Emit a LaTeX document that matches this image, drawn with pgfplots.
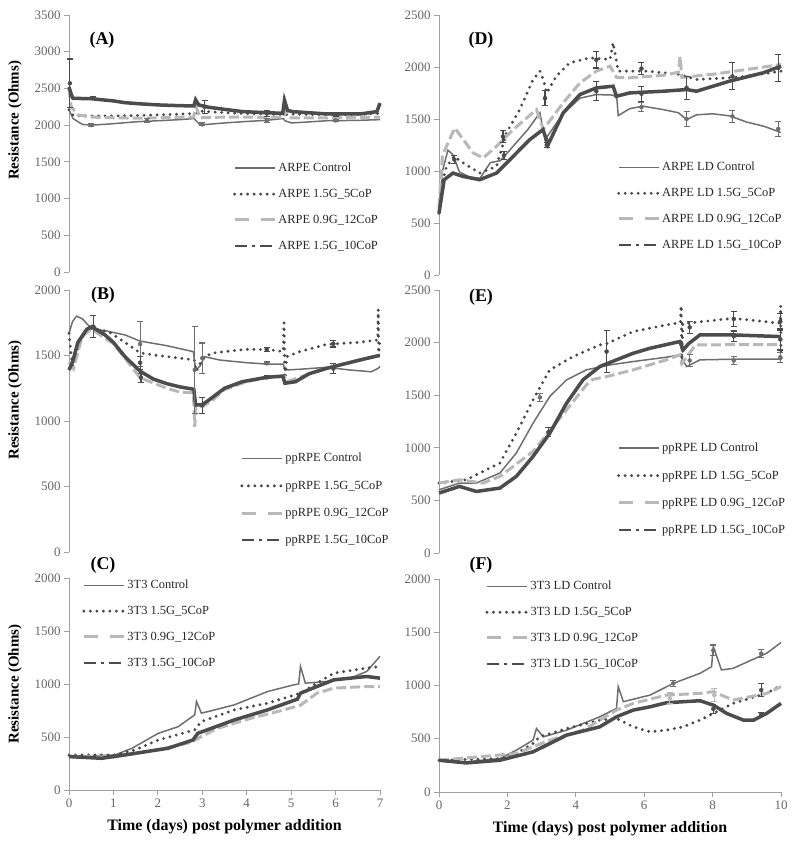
\documentclass[border=0pt]{standalone}
\usepackage{pgfplots}
\pgfplotsset{compat=1.18}
\usepackage{fontspec}
\setmainfont{Liberation Serif}
\definecolor{cctrl}{HTML}{6E6E6E}
\definecolor{cdot}{HTML}{484848}
\definecolor{clight}{HTML}{B8B8B8}
\definecolor{cdark}{HTML}{4C4C4C}
\definecolor{caxis}{HTML}{A0A0A0}
\pgfplotsset{
 panel/.style={
  scale only axis, clip=false,
  axis y line*=left,
  axis line style={draw=caxis, line width=0.9bp, -},
  tick style={draw=caxis, line width=0.9bp},
  major tick length=5bp, tick align=outside,
  tick label style={font=\fontsize{13}{15}\selectfont, text=black!60},
  /pgf/number format/1000 sep={},
  /pgf/number format/assume math mode=true,
  legend cell align=left,
  legend style={draw=none, fill=none, font=\fontsize{12.5}{14}\selectfont, text=black!85, row sep=12bp, inner sep=0pt, anchor=north west},
  legend image code/.code={\draw[##1] (0bp,0bp) -- (40bp,0bp);},
 },
 topaxis/.style={panel, hide x axis},
 botaxis/.style={panel, axis x line*=bottom, xlabel={Time (days) post polymer addition},
  xlabel style={font=\bfseries\fontsize{16}{18}\selectfont, at={(axis description cs:0.5,0)}, anchor=center, yshift=-37bp}},
 ylab/.style={ylabel={Resistance (Ohms)}, ylabel style={font=\bfseries\fontsize{15}{17}\selectfont, at={(axis description cs:0,#1)}, anchor=center, yshift=54bp}},
 ctrl/.style={color=cctrl, line width=1.5bp},
 dotS/.style={color=cdot, line width=3.2bp, line cap=round, dash pattern=on 0bp off 6.5bp},
 lightS/.style={color=clight, line width=3bp, dash pattern=on 10bp off 4bp,
   legend image code/.code={\draw[##1, dash pattern=on 14bp off 12bp] (0bp,0bp) -- (40bp,0bp);}},
 darkS/.style={color=cdark, line width=3.5bp,
   legend image code/.code={\draw[##1, line width=2bp, dash pattern=on 12bp off 5bp on 3bp off 5bp] (0bp,0bp) -- (40bp,0bp);}},
 eb/.style={forget plot, only marks, mark=none, color=#1, error bars/.cd, y dir=both, y explicit,
   error bar style={line width=1.1bp, color=#1}, error mark options={rotate=90, mark size=3bp, line width=1.1bp, color=#1}},
}
\begin{document}
\begin{tikzpicture}
\useasboundingbox (0,0) rectangle (800bp,843bp);
% ---------------- (A)
\begin{axis}[topaxis, ylab=0.59, at={(69bp,571bp)}, anchor=south west, width=311bp, height=257bp,
  xmin=0, xmax=7, ymin=0, ymax=3500, ytick={0,500,...,3500},
  legend style={at={(rel axis cs:0.527,0.432)}}]
\addplot[ctrl] coordinates {(0,2210) (0.09,2090) (0.3,2010) (0.5,2000) (0.9,2015) (1.5,2045) (2.0,2060) (2.5,2075) (2.82,2090) (2.86,2060) (2.95,2005) (3.1,2010) (3.5,2030) (4.0,2050) (4.44,2065) (4.82,2090) (4.86,2060) (5.0,2030) (5.3,2040) (5.8,2060) (6.5,2065) (7.0,2075)};
\addlegendentry{ARPE Control}
\addplot[dotS] coordinates {(0,2210) (0.1,2130) (0.5,2125) (1.0,2125) (1.5,2130) (2.0,2140) (2.5,2150) (2.84,2160) (3.0,2190) (3.2,2180) (3.8,2160) (4.4,2150) (4.84,2140) (5.0,2150) (5.5,2145) (6.0,2140) (6.5,2145) (7.0,2160)};
\addlegendentry{ARPE 1.5G\_5CoP}
\addplot[lightS] coordinates {(0,2500) (0.05,2250) (0.2,2140) (0.5,2110) (1,2100) (1.5,2095) (2,2100) (2.8,2110) (2.86,2250) (2.95,2100) (3.5,2110) (4.0,2110) (4.44,2105) (4.84,2110) (4.86,2200) (5.0,2100) (6,2100) (7,2110)};
\addlegendentry{ARPE 0.9G\_12CoP}
\addplot[darkS] coordinates {(0,2520) (0.05,2420) (0.09,2365) (0.5,2360) (1.0,2330) (1.26,2306) (1.6,2290) (2.02,2275) (2.5,2265) (2.81,2261) (2.85,2345) (2.92,2275) (3.15,2243) (3.5,2215) (3.91,2184) (4.44,2170) (4.81,2161) (4.85,2340) (4.92,2200) (5.04,2184) (5.5,2165) (5.8,2152) (6.55,2152) (6.93,2184) (7.0,2300)};
\addlegendentry{ARPE 1.5G\_10CoP}
\addplot[eb=cdark] coordinates {(0.02,2570) +- (0,330) (0.55,2370) +- (0,25) (3.05,2250) +- (0,90) (4.45,2160) +- (0,40) (6.0,2140) +- (0,20)};
\addplot[eb=cctrl] coordinates {(0.5,2000) +- (0,15) (1.75,2060) +- (0,25) (3.0,2010) +- (0,20) (4.45,2060) +- (0,30) (6.0,2065) +- (0,15)};
\end{axis}
% ---------------- (B)
\begin{axis}[topaxis, ylab=0.58, at={(69bp,291bp)}, anchor=south west, width=311bp, height=262bp,
  xmin=0, xmax=7, ymin=0, ymax=2000, ytick={0,500,...,2000},
  legend style={at={(rel axis cs:0.55,0.385)}, row sep=13.5bp}]
\addplot[ctrl] coordinates {(0,1670) (0.08,1760) (0.17,1800) (0.3,1780) (0.5,1707) (0.8,1690) (1.26,1657) (1.6,1610) (2.2,1575) (2.8,1529) (2.85,1389) (2.95,1420) (3.05,1491) (3.4,1465) (4.0,1445) (4.44,1435) (4.82,1435) (4.86,1389) (5.2,1395) (5.8,1410) (6.3,1390) (6.8,1376) (6.95,1400) (7.0,1416)};
\addlegendentry{ppRPE Control}
\addplot[dotS] coordinates {(0,1670) (0.05,1500) (0.1,1390) (0.2,1550) (0.35,1680) (0.5,1707) (0.9,1680) (1.26,1600) (1.6,1520) (2.0,1500) (2.82,1466) (2.86,1380) (3.0,1470) (3.2,1517) (3.5,1530) (4.0,1547) (4.5,1545) (4.82,1530) (4.84,1750) (4.86,1300) (4.9,1491) (5.2,1530) (5.8,1585) (6.5,1600) (6.95,1618) (6.96,1850) (6.97,1520) (7.0,1618)};
\addlegendentry{ppRPE 1.5G\_5CoP}
\addplot[lightS] coordinates {(0,1450) (0.1,1400) (0.3,1650) (0.51,1700) (1.0,1590) (1.26,1480) (1.6,1330) (1.9,1290) (2.2,1250) (2.5,1220) (2.8,1215) (2.83,956) (2.86,1120) (3.0,1110) (3.2,1150) (3.5,1240) (4.0,1300) (4.44,1330) (4.85,1340) (4.9,1300) (5.5,1370) (6,1420) (6.5,1460) (7,1500)};
\addlegendentry{ppRPE 0.9G\_12CoP}
\addplot[darkS] coordinates {(0,1389) (0.08,1450) (0.2,1600) (0.4,1700) (0.51,1720) (0.8,1660) (1.0,1600) (1.26,1491) (1.6,1380) (1.9,1320) (2.2,1285) (2.5,1260) (2.81,1242) (2.85,1122) (3.0,1125) (3.15,1160) (3.5,1250) (3.9,1300) (4.44,1333) (4.81,1343) (4.86,1288) (5.1,1300) (5.4,1360) (5.8,1402) (6.55,1466) (6.93,1496) (7.0,1500)};
\addlegendentry{ppRPE 1.5G\_10CoP}
\addplot[eb=cdark] coordinates {(0.55,1720) +- (0,85) (1.62,1330) +- (0,35) (3.0,1120) +- (0,60) (4.45,1333) +- (0,12) (5.95,1400) +- (0,40)};
\addplot[eb=cctrl] coordinates {(1.6,1587) +- (0,172) (2.83,1390) +- (0,330) (3.0,1480) +- (0,115) (4.45,1440) +- (0,10)};
\addplot[eb=cdot] coordinates {(1.6,1445) +- (0,50) (4.45,1547) +- (0,15) (5.95,1590) +- (0,25)};
\end{axis}
% ---------------- (C)
\begin{axis}[botaxis, ylab=0.5, at={(69bp,53bp)}, anchor=south west, width=311bp, height=212bp,
  xmin=0, xmax=7, ymin=0, ymax=2000, ytick={0,500,...,2000}, xtick={0,1,...,7},
  legend style={at={(rel axis cs:0.042,1.0)}}]
\addplot[ctrl] coordinates {(0,315) (1.04,331) (1.42,394) (2.01,535) (2.46,598) (2.83,709) (2.87,835) (2.98,725) (3.13,740) (3.72,803) (4.47,929) (5.06,992) (5.17,1000) (5.21,1166) (5.32,1008) (5.81,1024) (6.33,1055) (6.7,1118) (7.0,1260)};
\addlegendentry{3T3 Control}
\addplot[dotS] coordinates {(0,331) (1.04,331) (1.49,378) (2.01,472) (2.83,567) (2.98,646) (3.72,756) (4.47,819) (5.21,913) (5.58,1008) (5.96,1102) (6.7,1150) (7.0,1166)};
\addlegendentry{3T3 1.5G\_5CoP}
\addplot[lightS] coordinates {(0,320) (1.0,310) (2.0,380) (2.75,450) (2.98,504) (3.35,583) (4.1,677) (4.84,756) (5.21,800) (5.58,913) (5.96,961) (6.7,976) (7.0,976)};
\addlegendentry{3T3 0.9G\_12CoP}
\addplot[darkS] coordinates {(0,315) (0.74,299) (1.49,346) (2.23,394) (2.79,472) (2.9,535) (3.72,661) (4.47,756) (5.14,857) (5.21,913) (5.58,976) (5.96,1039) (6.7,1071) (7.0,1055)};
\addlegendentry{3T3 1.5G\_10CoP}
\end{axis}
% ---------------- (D)
\begin{axis}[topaxis, at={(439bp,568bp)}, anchor=south west, width=342bp, height=260bp,
  xmin=0, xmax=10, ymin=0, ymax=2500, ytick={0,500,...,2500},
  legend style={at={(rel axis cs:0.52,0.442)}}]
\addplot[ctrl] coordinates {(0,600) (0.1,1000) (0.26,1200) (0.4,1160) (0.6,990) (0.9,940) (1.2,930) (1.5,1080) (1.8,1100) (2.2,1250) (2.6,1400) (2.95,1560) (3.1,1300) (3.6,1540) (4.12,1700) (4.6,1735) (5.09,1730) (5.2,1700) (5.24,1533) (5.58,1600) (5.97,1623) (6.56,1590) (7.0,1560) (7.24,1494) (7.53,1540) (8.0,1550) (8.5,1530) (9.0,1470) (9.5,1430) (10,1370)};
\addlegendentry{ARPE LD Control}
\addplot[dotS] coordinates {(0,594) (0.1,900) (0.22,1044) (0.45,1141) (0.6,1100) (1.19,980) (1.68,1044) (1.97,1366) (2.36,1590) (2.75,1880) (2.95,1960) (3.05,1880) (3.15,1750) (3.43,1912) (3.82,2040) (4.41,2088) (5.0,2072) (5.09,2233) (5.24,1960) (6.07,1960) (7.04,1928) (7.53,1880) (8.5,1896) (9.0,1912) (10,1960)};
\addlegendentry{ARPE LD 1.5G\_5CoP}
\addplot[lightS] coordinates {(0,650) (0.1,1150) (0.46,1414) (1.0,1173) (1.29,1125) (1.68,1237) (2.17,1398) (2.85,1590) (3.05,1400) (3.63,1655) (4.12,1847) (4.6,1960) (5.0,2008) (5.19,1900) (5.58,1896) (6.56,1920) (7.0,1950) (7.05,2100) (7.1,1900) (8.0,1930) (9.0,1976) (10,2024)};
\addlegendentry{ARPE LD 0.9G\_12CoP}
\addplot[darkS] coordinates {(0,594) (0.15,916) (0.41,980) (0.7,948) (1.19,916) (1.68,980) (2.17,1141) (2.65,1301) (3.04,1398) (3.19,1253) (3.63,1558) (4.12,1735) (4.6,1799) (5.09,1815) (5.19,1719) (5.58,1751) (6.56,1767) (7.24,1783) (7.53,1767) (8.5,1864) (9.48,1944) (10,2008)};
\addlegendentry{ARPE LD 1.5G\_10CoP}
\addplot[eb=cdark] coordinates {(0.45,1110) +- (0,40) (1.9,1150) +- (0,40) (3.15,1250) +- (0,20) (4.6,1767) +- (0,90) (5.92,1743) +- (0,72) (7.24,1800) +- (0,110) (8.58,1910) +- (0,130) (9.92,1990) +- (0,130)};
\addplot[eb=cdot] coordinates {(1.87,1330) +- (0,60) (3.1,1700) +- (0,70) (4.6,2070) +- (0,80) (5.92,1985) +- (0,55)};
\addplot[eb=cctrl] coordinates {(5.92,1615) +- (0,40) (7.24,1500) +- (0,70) (8.58,1525) +- (0,60) (9.92,1405) +- (0,70)};
\end{axis}
% ---------------- (E)
\begin{axis}[topaxis, at={(439bp,290bp)}, anchor=south west, width=342bp, height=263bp,
  xmin=0, xmax=10, ymin=0, ymax=2500, ytick={0,500,...,2500},
  legend style={at={(rel axis cs:0.52,0.426)}, row sep=13.5bp}]
\addplot[ctrl] coordinates {(0,601) (0.6,665) (1.09,665) (1.78,760) (2.26,950) (2.75,1234) (3.24,1488) (3.73,1646) (4.31,1741) (5.0,1788) (5.68,1820) (6.65,1861) (7.04,1883) (7.24,1772) (7.63,1836) (8.6,1842) (10,1842)};
\addlegendentry{ppRPE LD Control}
\addplot[dotS] coordinates {(0,665) (0.8,696) (1.78,855) (2.26,1139) (2.75,1456) (3.24,1741) (3.92,1867) (4.7,1978) (4.9,1990) (5.68,2105) (6.65,2168) (7.06,2190) (7.08,2350) (7.10,1780) (7.13,2180) (8.6,2231) (9.98,2184) (9.99,2350) (10,1800)};
\addlegendentry{ppRPE LD 1.5G\_5CoP}
\addplot[lightS] coordinates {(0,665) (0.6,696) (1.29,665) (1.78,728) (2.75,965) (3.73,1361) (4.31,1598) (4.5,1650) (4.9,1677) (5.68,1741) (6.65,1836) (7.04,1883) (7.1,1800) (7.5,1978) (8.6,1980) (10,1980)};
\addlegendentry{ppRPE LD 0.9G\_12CoP}
\addplot[darkS] coordinates {(0,570) (0.6,633) (1.09,585) (1.78,617) (2.26,728) (2.75,918) (3.24,1139) (3.73,1424) (4.21,1646) (4.7,1772) (5.19,1836) (5.68,1899) (6.17,1946) (7.04,2010) (7.14,1931) (7.3,1990) (7.63,2073) (8.6,2073) (10,2057)};
\addlegendentry{ppRPE LD 1.5G\_10CoP}
\addplot[eb=cdot] coordinates {(4.9,1915) +- (0,200) (8.62,2225) +- (0,70) (9.98,2200) +- (0,80)};
\addplot[eb=cdark] coordinates {(3.2,1150) +- (0,40) (7.33,2145) +- (0,55) (8.62,2060) +- (0,50) (9.98,2030) +- (0,100)};
\addplot[eb=cctrl] coordinates {(2.95,1480) +- (0,40) (7.33,1830) +- (0,60) (8.62,1830) +- (0,40) (9.98,1860) +- (0,50)};
\end{axis}
% ---------------- (F)
\begin{axis}[botaxis, at={(439bp,51bp)}, anchor=south west, width=342bp, height=213bp,
  xmin=0, xmax=10, ymin=0, ymax=2000, ytick={0,500,...,2000}, xtick={0,2,...,10},
  legend style={at={(rel axis cs:0.135,1.0)}}]
\addplot[ctrl] coordinates {(0,298) (0.8,283) (1.78,314) (2.26,392) (2.75,487) (2.85,596) (3.05,518) (3.73,581) (4.7,706) (5.19,785) (5.24,989) (5.39,848) (6.17,910) (6.85,1020) (7.63,1114) (7.97,1177) (8.02,1365) (8.26,1146) (8.6,1161) (9.58,1303) (10,1403)};
\addlegendentry{3T3 LD  Control}
\addplot[dotS] coordinates {(0,298) (1.78,314) (2.26,361) (2.75,455) (2.94,518) (3.73,596) (4.7,675) (5.19,691) (5.68,612) (6.17,565) (6.65,581) (7.14,612) (7.63,675) (8.02,738) (8.6,832) (9.58,926) (10,1004)};
\addlegendentry{3T3 LD 1.5G\_5CoP}
\addplot[lightS] coordinates {(0,298) (2.26,361) (3.24,487) (4.21,581) (5.19,769) (5.68,832) (6.65,910) (7.63,926) (8.02,942) (8.6,863) (9.58,926) (10,989)};
\addlegendentry{3T3 LD 0.9G\_12CoP}
\addplot[darkS] coordinates {(0,298) (0.8,273) (1.78,298) (2.75,377) (3.24,455) (3.73,534) (4.7,612) (5.19,706) (5.68,769) (6.17,800) (6.65,838) (7.63,857) (8.02,816) (8.41,738) (8.9,675) (9.2,675) (9.58,738) (10,832)};
\addlegendentry{3T3 LD 1.5G\_10CoP}
\addplot[eb=cctrl] coordinates {(6.85,1020) +- (0,30) (8.02,1330) +- (0,50) (9.42,1300) +- (0,40)};
\addplot[eb=clight] coordinates {(6.75,880) +- (0,50) (8.05,910) +- (0,60)};
\addplot[eb=cdark] coordinates {(9.42,957) +- (0,63) (8.02,780) +- (0,40) (9.42,730) +- (0,20)};
\end{axis}
% panel labels
\node[font=\bfseries\fontsize{18}{20}\selectfont] at (102bp,803bp) {(A)};
\node[font=\bfseries\fontsize{18}{20}\selectfont] at (481bp,803bp) {(D)};
\node[font=\bfseries\fontsize{18}{20}\selectfont] at (103bp,548bp) {(B)};
\node[font=\bfseries\fontsize{18}{20}\selectfont] at (481bp,546bp) {(E)};
\node[font=\bfseries\fontsize{18}{20}\selectfont] at (103bp,278bp) {(C)};
\node[font=\bfseries\fontsize{18}{20}\selectfont] at (481bp,278bp) {(F)};
\end{tikzpicture}
\end{document}
